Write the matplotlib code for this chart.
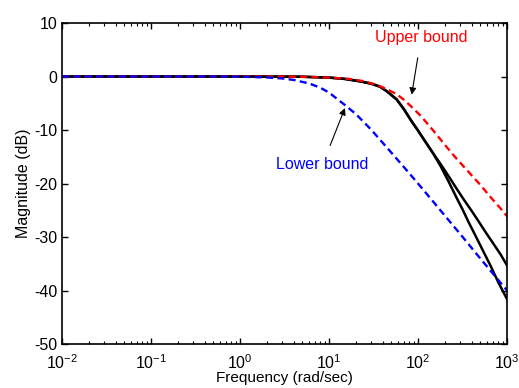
import matplotlib
matplotlib.use('Agg')
import matplotlib.pyplot as plt

# Bode magnitude: two responses bracketed by upper/lower first-order bounds
w_upper = [0.01, 0.1, 1, 5, 10, 17, 25, 35, 45, 57.7, 70, 85, 105, 120, 150, 192, 250, 350, 498, 673, 850, 1000]
db_upper = [0, 0, 0, -0.05, -0.2, -0.45, -0.9, -1.6, -2.4, -3.3, -4.4, -5.7, -7.2, -8.3, -10.2, -12.4, -14.7, -17.4, -20.2, -22.8, -24.7, -26.1]

w_lower = [0.01, 0.1, 0.5, 1, 2, 3, 4, 6, 8, 10, 15, 20, 30, 50, 70, 100, 150, 200, 300, 500, 700, 1000]
db_lower = [0, 0, 0, -0.04, -0.17, -0.37, -0.64, -1.3, -2.1, -3.0, -5.3, -7.0, -10.0, -14.2, -17.0, -20.0, -23.5, -26.0, -29.5, -34.0, -36.9, -40.0]

# shared low-frequency part of both responses
w_common = [0.01, 0.1, 1, 3, 5, 10, 15, 22.3, 30, 37.4, 45, 57.7, 70, 83.4, 100, 120, 147]
db_common = [0, 0, 0, -0.02, -0.05, -0.2, -0.45, -0.9, -1.35, -1.9, -2.8, -4.3, -6.2, -8.2, -10.1, -12.1, -14.3]

w_resp_a = w_common + [180, 220, 270, 330, 400, 476, 580, 700, 850, 1000]
db_resp_a = db_common + [-16.4, -18.6, -20.9, -23.1, -25.1, -27.0, -29.2, -31.2, -33.3, -35.3]

w_resp_b = w_common + [180, 220, 270, 320, 367, 450, 550, 650, 800, 1000]
db_resp_b = db_common + [-16.8, -19.6, -22.6, -25.0, -27.1, -30.0, -32.9, -35.3, -38.5, -41.6]

plt.rcParams['font.family'] = ['Liberation Sans', 'DejaVu Sans']
plt.rcParams['mathtext.fontset'] = 'custom'
plt.rcParams['mathtext.rm'] = 'Liberation Sans'
plt.rcParams['mathtext.default'] = 'regular'
plt.rcParams['axes.unicode_minus'] = False

fig = plt.figure(figsize=(5.19, 3.88), dpi=100)
ax = fig.add_axes([0.1195, 0.1134, 0.8574, 0.8273])

ax.semilogx(w_resp_a, db_resp_a, color='black', lw=1.8)
ax.semilogx(w_resp_b, db_resp_b, color='black', lw=1.8)
ax.semilogx(w_upper, db_upper, color='red', lw=1.7, dashes=(3, 1.8))
ax.semilogx(w_lower, db_lower, color='blue', lw=1.7, dashes=(3, 1.8))

ax.set_xlim(1e-2, 1e3)
ax.set_ylim(-50, 10)
ax.set_yticks([-50, -40, -30, -20, -10, 0, 10])

ax.annotate('Upper bound', xy=(84.9, -3.4), xytext=(108, 7.2), color='red',
            fontsize=11.5, ha='center', va='center',
            arrowprops=dict(arrowstyle='-|>', color='black', lw=0.8,
                            mutation_scale=10, shrinkA=7, shrinkB=0))
ax.annotate('Lower bound', xy=(15.1, -5.9), xytext=(8.45, -16.5), color='blue',
            fontsize=11.5, ha='center', va='center',
            arrowprops=dict(arrowstyle='-|>', color='black', lw=0.8,
                            mutation_scale=10, shrinkA=7, shrinkB=0))

ax.set_xlabel('Frequency (rad/sec)', fontsize=11, labelpad=-1)
ax.set_ylabel('Magnitude (dB)', fontsize=11.5, labelpad=2)

ax.tick_params(which='both', direction='in', top=True, right=True, labelsize=11.5)
ax.tick_params(which='major', length=4, width=1)
ax.tick_params(which='minor', length=2.5, width=0.8)
ax.tick_params(axis='x', which='major', pad=7)
for s in ax.spines.values():
    s.set_linewidth(1.2)

fig.savefig('out.png', dpi=100)
